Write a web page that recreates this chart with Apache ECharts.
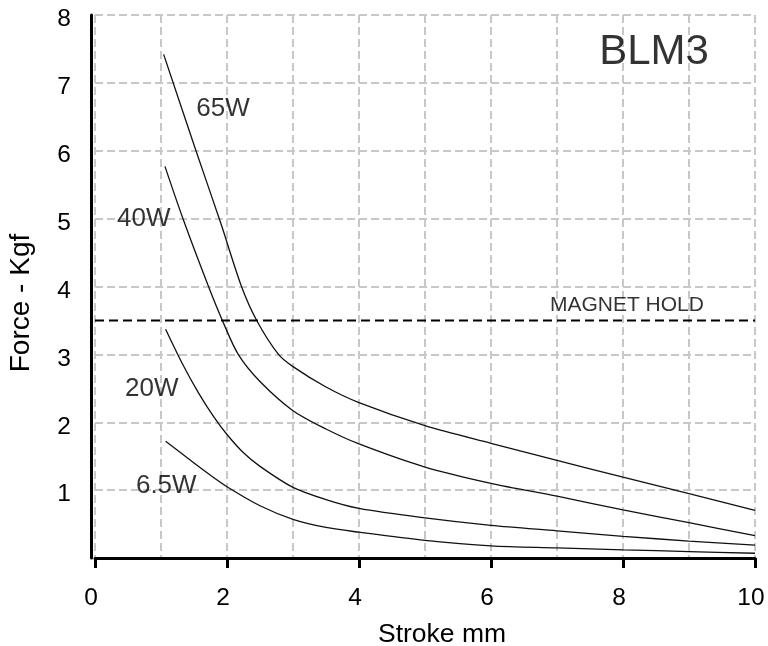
<!DOCTYPE html>
<html><head><meta charset="utf-8">
<script src="https://cdn.jsdelivr.net/npm/echarts@6/dist/echarts.min.js"></script>
<style>html,body{margin:0;padding:0;background:#fff}#c{width:768px;height:646px}</style>
</head><body><div id="c"></div>
<script>
// Force (Kgf) vs stroke (mm) curves
const curve65W = [[1.04,7.42],[1.53,6.0],[1.91,4.92],[2.22,4.0],[2.45,3.5],[2.78,3.0],[3.0,2.82],[3.5,2.52],[4,2.29],[5,1.95],[6,1.69],[7,1.44],[8,1.19],[9,0.95],[10,0.70]];
const curve40W = [[1.06,5.77],[1.34,4.98],[1.72,4.0],[1.93,3.5],[2.17,3.0],[2.5,2.6],[3,2.17],[3.5,1.9],[4,1.68],[5,1.34],[6,1.10],[7,0.91],[8,0.71],[9,0.52],[10,0.33]];
const curve20W = [[1.07,3.37],[1.32,2.87],[1.57,2.43],[1.8,2.08],[2.0,1.82],[2.25,1.55],[2.5,1.35],[3,1.04],[3.5,0.86],[4,0.73],[5,0.59],[6,0.48],[7,0.40],[8,0.32],[9,0.25],[10,0.19]];
const curve6_5W = [[1.07,1.72],[1.5,1.40],[1.75,1.22],[2,1.05],[2.5,0.77],[3,0.57],[3.5,0.45],[4,0.38],[5,0.26],[6,0.18],[7,0.15],[8,0.12],[9,0.095],[10,0.07]];
const magnetHold = 3.5;
const magnetHoldSpan = [0, 10];
// text annotations: [x, y, text]
const curveLabels = [[1.94,6.62,'65W'],[0.74,4.99,'40W'],[0.86,2.49,'20W'],[1.08,1.06,'6.5W']];
const magnetLabel = [8.06,3.72,'MAGNET HOLD'];
const chartTag = [8.47,7.45,'BLM3'];
const xName = 'Stroke mm';
const yName = 'Force - Kgf';

const FONT = 'Liberation Sans, Arial, sans-serif';
const gridStyle = {color:'#c8c8c8', width:2, type:[8,4]};
const curveStyle = {color:'#111', width:1.3};
function curveSeries(name, data){
  return {name, type:'line', data, smooth:0.3, symbol:'none', lineStyle:curveStyle, z:3, silent:true};
}
const plainLabel = {color:'#000', textBorderWidth:0, textShadowBlur:0, fontFamily:FONT};

const chart = echarts.init(document.getElementById('c'), null, {renderer:'canvas'});
chart.setOption({
  animation:false,
  textStyle:{fontFamily:FONT},
  grid:{left:95, right:13, top:15, bottom:88, containLabel:false, outerBoundsMode:'none'},
  xAxis:{
    type:'value', min:0, max:10, interval:2,
    name:xName, nameLocation:'middle', nameGap:63,
    nameTextStyle:{fontSize:26.5, color:'#000', fontFamily:FONT, padding:[0,0,0,34]},
    axisLine:{show:true, onZero:false, lineStyle:{color:'#000', width:3}},
    axisTick:{show:true, length:10, lineStyle:{color:'#000', width:3}},
    axisLabel:{fontSize:24.5, color:'#000', margin:28, fontFamily:FONT, padding:[0,8,0,0]},
    splitLine:{show:true, lineStyle:gridStyle},
    minorTick:{show:false, splitNumber:2},
    minorSplitLine:{show:true, lineStyle:gridStyle}
  },
  yAxis:{
    type:'value', min:0, max:8, interval:1, offset:4,
    name:yName, nameLocation:'middle', nameGap:56,
    nameTextStyle:{fontSize:28, color:'#000', fontFamily:FONT, padding:[0,33,0,0]},
    axisLine:{show:true, onZero:false, lineStyle:{color:'#000', width:3}},
    axisTick:{show:false},
    axisLabel:{fontSize:24.5, color:'#000', margin:20, fontFamily:FONT, verticalAlign:'top', lineHeight:9,
               formatter:v => v===0 ? '' : String(v)},
    splitLine:{show:true, lineStyle:gridStyle}
  },
  series:[
    curveSeries('65W', curve65W),
    curveSeries('40W', curve40W),
    curveSeries('20W', curve20W),
    curveSeries('6.5W', curve6_5W),
    {name:'Magnet hold', type:'line', data:magnetHoldSpan.map(x => [x, magnetHold]), symbol:'none',
     lineStyle:{color:'#000', width:2, type:[9,5]}, z:4, silent:true},
    {name:'labels', type:'scatter', symbolSize:0, silent:true, z:5,
     itemStyle:{color:'#fff'},
     label:Object.assign({show:true, position:'inside', fontSize:26, formatter:p => p.data.value[2]}, plainLabel),
     data:[
       ...curveLabels.map(l => ({value:l})),
       {value:magnetLabel, label:Object.assign({fontSize:21}, plainLabel)},
       {value:chartTag, label:Object.assign({fontSize:42}, plainLabel)}
     ]}
  ]
});
</script></body></html>
